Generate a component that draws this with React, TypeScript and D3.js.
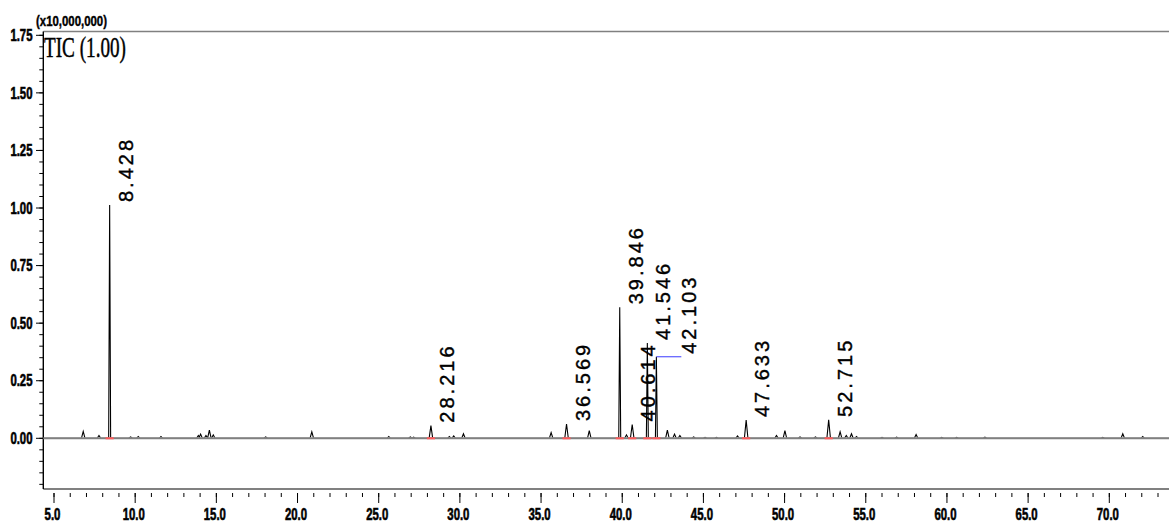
import React from 'react'
import * as d3 from 'd3'

// peak list (min, x10,000,000 counts)
const peakTimes = [
  6.80, 7.77, 8.428, 9.72, 10.19, 11.59, 13.89, 14.03, 14.36, 14.57, 14.81, 18.04,
  20.88, 25.62, 26.95, 27.15, 28.216, 29.35, 29.62, 30.22, 35.62, 36.569, 37.97,
  39.846, 40.26, 40.614, 41.546, 42.103, 42.78, 43.22, 43.55, 44.4, 45.1, 45.8,
  47.10, 47.633, 49.5, 50.02, 50.95, 51.9, 52.715, 53.42, 53.8, 54.12, 54.43,
  56.0, 56.9, 58.1, 59.68, 60.6, 62.34, 69.6, 70.83, 72.06
]
const peakHeights = [
  0.03, 0.012, 1.013, 0.006, 0.008, 0.008, 0.012, 0.018, 0.012, 0.035, 0.015, 0.006,
  0.028, 0.008, 0.006, 0.005, 0.055, 0.008, 0.01, 0.02, 0.025, 0.062, 0.033,
  0.569, 0.015, 0.06, 0.414, 0.354, 0.036, 0.018, 0.012, 0.006, 0.004, 0.004,
  0.01, 0.079, 0.012, 0.033, 0.006, 0.006, 0.08, 0.028, 0.012, 0.02, 0.008,
  0.004, 0.005, 0.016, 0.004, 0.004, 0.005, 0.004, 0.02, 0.008
]
const labelTimes = [8.428, 28.216, 36.569, 39.846, 40.614, 41.546, 42.103, 47.633, 52.715]
const labelTexts = ['8.428', '28.216', '36.569', '39.846', '40.614', '41.546', '42.103', '47.633', '52.715']

const xMajorTicks = [5, 10, 15, 20, 25, 30, 35, 40, 45, 50, 55, 60, 65, 70]
const yMajorTicks = [0, 0.25, 0.5, 0.75, 1.0, 1.25, 1.5, 1.75]

const W = 1169
const H = 523
const AXIS_LEFT = 43.3
const AXIS_TOP = 31.5
const AXIS_BOTTOM = 489

const x = d3.scaleLinear().domain([5, 70]).range([54, 1109.3])
const y = d3.scaleLinear().domain([0, 1.75]).range([438.3, 35.3])

const condensed = (s: string) =>
  s.split('').reduce((acc, c) => acc + (c === '.' ? 3.5 : 6.2), 0)

const App = () => {
  const t0 = x.invert(AXIS_LEFT)
  const t1 = x.invert(W)

  // trace: flat baseline with a narrow spike at every peak
  const pts: [number, number][] = [[t0, 0]]
  peakTimes.forEach((t, i) => {
    const h = peakHeights[i]
    const hw = h > 0.2 ? 0.06 : 0.11
    pts.push([t - hw, 0], [t, h], [t + hw, 0])
  })
  pts.push([t1, 0])
  const line = d3.line<[number, number]>().x(d => x(d[0])).y(d => y(d[1]))

  const xMinor = d3.range(5, 74, 1)
  const yMinor = d3.range(-0.2, 1.76, 0.05)

  // peak labels, pushed right when they collide with the previous one
  const labels: { bx: number, by: number, px: number, py: number, text: string, shifted: boolean }[] = []
  labelTimes.forEach((t, i) => {
    const h = peakHeights[peakTimes.indexOf(t)]
    const px = x(t)
    const py = y(h)
    let bx = px + 23
    const by = py - 3
    const len = labelTexts[i].length * 13
    const prev = labels[labels.length - 1]
    let shifted = false
    if (prev && bx - prev.bx < 16) {
      const prevTop = prev.by - prev.text.length * 13
      if (by > prevTop && by - len < prev.by) {
        bx = prev.bx + 26
        shifted = true
      }
    }
    labels.push({ bx, by, px, py, text: labelTexts[i], shifted })
  })

  const tickFont = 'Liberation Sans, Arial, sans-serif'

  return (
    <>
      <style>{'body{margin:0}'}</style>
      <svg width={W} height={H} style={{ display: 'block', background: '#fff' }}>
        <defs>
          <clipPath id='above'>
            <rect x={0} y={0} width={W} height={y(0) - 1} />
          </clipPath>
        </defs>

        {/* frame */}
        <line x1={AXIS_LEFT} x2={W} y1={AXIS_TOP} y2={AXIS_TOP} stroke='#808080' strokeWidth={1.3} />
        <line x1={AXIS_LEFT} x2={W} y1={AXIS_BOTTOM} y2={AXIS_BOTTOM} stroke='#808080' strokeWidth={2} />
        <line x1={AXIS_LEFT} x2={AXIS_LEFT} y1={AXIS_TOP} y2={AXIS_BOTTOM} stroke='#000' strokeWidth={1.4} />

        {/* y ticks */}
        {yMinor.map(v => (
          <line key={'ym' + v.toFixed(2)} x1={39.3} x2={AXIS_LEFT} y1={y(v)} y2={y(v)} stroke='#000' strokeWidth={1} />
        ))}
        {yMajorTicks.map(v => (
          <g key={'y' + v}>
            <line x1={36} x2={AXIS_LEFT} y1={y(v)} y2={y(v)} stroke='#000' strokeWidth={1} />
            <text x={32.5} y={y(v)} dy='0.36em' textAnchor='end' fontFamily={tickFont} fontWeight='bold'
              fontSize={16} stroke='#000' strokeWidth={0.6}
              textLength={condensed(v.toFixed(2))} lengthAdjust='spacingAndGlyphs'>
              {v.toFixed(2)}
            </text>
          </g>
        ))}

        {/* x ticks */}
        {xMinor.map(v => (
          <line key={'xm' + v} x1={x(v)} x2={x(v)} y1={493} y2={497} stroke='#000' strokeWidth={1} />
        ))}
        {xMajorTicks.map(v => (
          <g key={'x' + v}>
            <line x1={x(v)} x2={x(v)} y1={493} y2={503} stroke='#000' strokeWidth={1} />
            <text x={x(v) - 1.5} y={520} textAnchor='middle' fontFamily={tickFont} fontWeight='bold'
              fontSize={16} stroke='#000' strokeWidth={0.6}
              textLength={condensed(v.toFixed(1))} lengthAdjust='spacingAndGlyphs'>
              {v.toFixed(1)}
            </text>
          </g>
        ))}

        {/* headings */}
        <text x={36} y={25.5} fontFamily={tickFont} fontWeight='bold' fontSize={14}
          stroke='#000' strokeWidth={0.4}
          textLength={71} lengthAdjust='spacingAndGlyphs'>(x10,000,000)</text>
        <text x={44} y={56.5} fontFamily='Liberation Serif, Times New Roman, serif' fontSize={30}
          stroke='#000' strokeWidth={0.5}
          textLength={82} lengthAdjust='spacingAndGlyphs'>TIC (1.00)</text>

        {/* baseline and trace */}
        <line x1={AXIS_LEFT} x2={W} y1={y(0)} y2={y(0)} stroke='#808080' strokeWidth={2} />
        <path d={line(pts) || ''} fill='none' stroke='#000' strokeWidth={1.1} clipPath='url(#above)' />

        {/* integration marks */}
        {labelTimes.map(t => (
          <line key={'r' + t} x1={x(t - 0.25)} x2={x(t + 0.25)} y1={y(0)} y2={y(0)} stroke='#ff5a5a' strokeWidth={2} />
        ))}

        {/* peak labels */}
        {labels.map(l => (
          <g key={l.text}>
            {l.shifted && (
              <line x1={l.px} x2={l.bx - 15} y1={l.py} y2={l.py} stroke='#3a3aff' strokeWidth={1} />
            )}
            <text transform={`translate(${l.bx},${l.by}) rotate(-90)`} fontFamily={tickFont}
              fontSize={20} letterSpacing={3} fill='#000' stroke='#000' strokeWidth={0.4}>
              {l.text}
            </text>
          </g>
        ))}
      </svg>
    </>
  )
}

export default App
